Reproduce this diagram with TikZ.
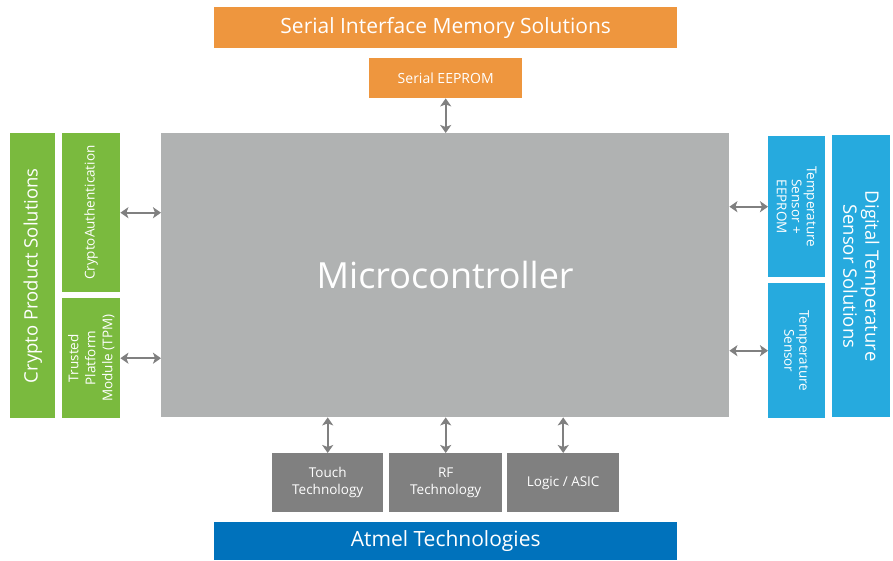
\documentclass[tikz,border=0pt]{standalone}
\usepackage{fontspec}
\setmainfont{Open Sans}
\usetikzlibrary{arrows.meta}
\definecolor{orng}{RGB}{238,150,62}
\definecolor{grn}{RGB}{122,186,62}
\definecolor{lblue}{RGB}{38,170,222}
\definecolor{dblue}{RGB}{0,114,188}
\definecolor{mcgray}{RGB}{176,178,178}
\definecolor{dgray}{RGB}{128,128,128}
\definecolor{arrgray}{RGB}{128,128,128}
\tikzset{
  box/.style={draw=none, anchor=north west, inner sep=0pt, text=white},
  lbl/.style={text=white, align=center, inner sep=0pt},
  arr/.style={{Stealth[length=8pt,width=11pt,inset=2pt]}-{Stealth[length=8pt,width=11pt,inset=2pt]}, line width=2.2pt, draw=arrgray},
}
\begin{document}
\begin{tikzpicture}[x=1pt,y=-1pt]
\useasboundingbox[fill=white] (0,0) rectangle (893,560);
% top
\node[box, fill=orng, minimum width=463pt, minimum height=41pt, font=\fontsize{21}{24}\selectfont] (sims) at (214,7) {Serial Interface Memory Solutions};
\node[box, fill=orng, minimum width=153pt, minimum height=40pt, font=\fontsize{14}{17}\selectfont] (see) at (369,58) {Serial EEPROM};
% microcontroller
\node[box, fill=mcgray, minimum width=568pt, minimum height=284pt, font=\fontsize{36}{40}\selectfont] (mc) at (161,133) {Microcontroller};
% left
\node[box, fill=grn, minimum width=45pt, minimum height=285pt] (cps) at (10,133) {};
\node[lbl, rotate=90, font=\fontsize{18.5}{22}\selectfont] (cpst) at (cps.center) {Crypto Product Solutions};
\node[box, fill=grn, minimum width=58pt, minimum height=159pt] (ca) at (62,133) {};
\node[lbl, rotate=90, font=\fontsize{13.5}{16}\selectfont] (cat) at (ca.center) {CryptoAuthentication};
\node[box, fill=grn, minimum width=58pt, minimum height=120pt] (tpm) at (62,298) {};
\node[lbl, rotate=90, font=\fontsize{13.5}{17}\selectfont] (tpmt) at (tpm.center) {Trusted\\Platform\\Module (TPM)};
% right
\node[box, fill=lblue, minimum width=57pt, minimum height=141pt] (tse) at (768,136) {};
\node[lbl, rotate=-90, font=\fontsize{13.5}{15}\selectfont] (tset) at (tse.center) {Temperature\\Sensor +\\EEPROM};
\node[box, fill=lblue, minimum width=57pt, minimum height=135pt] (ts) at (768,283) {};
\node[lbl, rotate=-90, font=\fontsize{13.5}{15}\selectfont] (tst) at (ts.center) {Temperature\\Sensor};
\node[box, fill=lblue, minimum width=58pt, minimum height=282pt] (dts) at (832,135) {};
\node[lbl, rotate=-90, font=\fontsize{18.5}{22}\selectfont] (dtst) at (dts.center) {Digital Temperature\\Sensor Solutions};
% bottom
\node[box, fill=dgray, minimum width=111pt, minimum height=59pt, align=center, font=\fontsize{13.5}{17}\selectfont] (touch) at (272,453) {Touch\\Technology};
\node[box, fill=dgray, minimum width=113pt, minimum height=59pt, align=center, font=\fontsize{13.5}{17}\selectfont] (rf) at (389,453) {RF\\Technology};
\node[box, fill=dgray, minimum width=112pt, minimum height=59pt, align=center, font=\fontsize{13.5}{17}\selectfont] (logic) at (507,453) {Logic / ASIC};
\node[box, fill=dblue, minimum width=463pt, minimum height=38pt, font=\fontsize{21}{24}\selectfont] (atmel) at (214,522) {Atmel Technologies};
% arrows
\draw[arr] (see.south) -- (see.south |- mc.north);
\draw[arr] (ca.east) -- (ca.east -| mc.west);
\draw[arr] (tpm.east) -- (tpm.east -| mc.west);
\draw[arr] (tse.west) -- (tse.west -| mc.east);
\draw[arr] (ts.west) -- (ts.west -| mc.east);
\draw[arr] (touch.north) -- (touch.north |- mc.south);
\draw[arr] (rf.north) -- (rf.north |- mc.south);
\draw[arr] (logic.north) -- (logic.north |- mc.south);
\end{tikzpicture}
\end{document}
